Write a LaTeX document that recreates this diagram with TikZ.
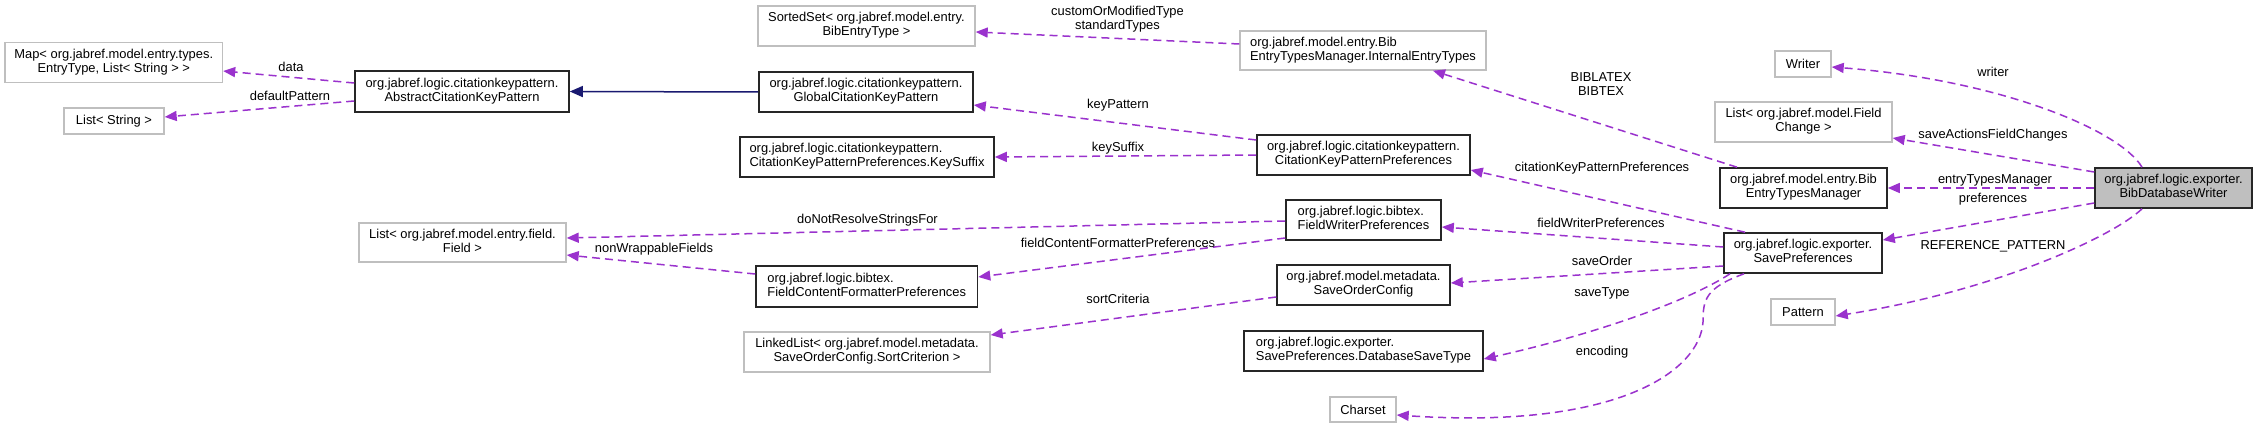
\documentclass[tikz,border=0pt]{standalone}
\usepackage{fontspec}
\setmainfont{Liberation Sans}
\usetikzlibrary{arrows.meta}
\definecolor{edgecol}{HTML}{9A32CD}
\definecolor{inhcol}{HTML}{191970}
\definecolor{graybd}{HTML}{BFBFBF}
\definecolor{selfill}{HTML}{BFBFBF}
\newcommand{\twoln}[2]{\begin{tabular}{@{}l@{}}#1\\\multicolumn{1}{@{}c@{}}{#2}\end{tabular}}
\begin{document}
\begin{tikzpicture}[x=1pt,y=-1pt,
  every node/.style={font=\fontsize{12.9}{14}\selectfont, inner sep=0pt, text=black},
  cls/.style={draw=black!85, line width=1.6pt, fill=white, minimum height=40pt},
  ext/.style={draw=graybd, line width=1.4pt, fill=white, minimum height=40pt},
  sel/.style={cls, fill=selfill},
  lbl/.style={align=center},
  use/.style={draw=edgecol, line width=1.5pt, dash pattern=on 8pt off 5pt, -{Triangle[length=12pt,width=10pt]}},
  inh/.style={draw=inhcol, line width=1.5pt, -{Triangle[length=13pt,width=11pt]}}]
\fill[white] (0,0) rectangle (2257,428);
\useasboundingbox (0,0) rectangle (2257,428);

% nodes
\node[ext, minimum width=217.5pt] (map) at (113.75,62.5) {\twoln{Map< org.jabref.model.entry.types.}{EntryType, List< String > >}};
\node[ext, minimum width=100pt, minimum height=26pt] (lstr) at (114,121) {List< String >};
\node[cls, minimum width=214pt, minimum height=41pt] (abs) at (462,91.5) {\twoln{org.jabref.logic.citationkeypattern.}{AbstractCitationKeyPattern}};
\node[ext, minimum width=207pt, minimum height=39pt] (lfield) at (462.5,242.5) {\twoln{List< org.jabref.model.entry.field.}{Field >}};
\node[ext, minimum width=217pt] (sorted) at (866.5,26) {\twoln{SortedSet< org.jabref.model.entry.}{BibEntryType >}};
\node[cls, minimum width=214pt] (global) at (866,92) {\twoln{org.jabref.logic.citationkeypattern.}{GlobalCitationKeyPattern}};
\node[cls, minimum width=254pt] (keysuffix) at (867,157) {\twoln{org.jabref.logic.citationkeypattern.}{CitationKeyPatternPreferences.KeySuffix}};
\node[cls, minimum width=221.5pt, minimum height=41pt] (fcfp) at (866.75,286.5) {\twoln{org.jabref.logic.bibtex.}{FieldContentFormatterPreferences}};
\node[ext, minimum width=246pt] (linked) at (867,352) {\twoln{LinkedList< org.jabref.model.metadata.}{SaveOrderConfig.SortCriterion >}};
\node[ext, minimum width=246pt, minimum height=39pt] (internal) at (1363,50.5) {\twoln{org.jabref.model.entry.Bib}{EntryTypesManager.InternalEntryTypes}};
\node[cls, minimum width=213pt] (ckpp) at (1363.5,155) {\twoln{org.jabref.logic.citationkeypattern.}{CitationKeyPatternPreferences}};
\node[cls, minimum width=155pt] (fwp) at (1363.5,220) {\twoln{org.jabref.logic.bibtex.}{FieldWriterPreferences}};
\node[cls, minimum width=173pt] (soc) at (1363.5,285) {\twoln{org.jabref.model.metadata.}{SaveOrderConfig}};
\node[cls, minimum width=239pt] (dst) at (1363.5,351) {\twoln{org.jabref.logic.exporter.}{SavePreferences.DatabaseSaveType}};
\node[ext, minimum width=66pt, minimum height=25pt] (charset) at (1363,409.5) {Charset};
\node[ext, minimum width=56pt, minimum height=26pt] (writer) at (1803,64) {Writer};
\node[ext, minimum width=177pt] (lfc) at (1803.5,122) {\twoln{List< org.jabref.model.Field}{Change >}};
\node[cls, minimum width=167pt] (betm) at (1803.5,188) {\twoln{org.jabref.model.entry.Bib}{EntryTypesManager}};
\node[cls, minimum width=158pt] (savep) at (1803,253) {\twoln{org.jabref.logic.exporter.}{SavePreferences}};
\node[ext, minimum width=64pt, minimum height=26pt] (pattern) at (1803,312) {Pattern};
\node[sel, minimum width=157pt] (bdw) at (2173.5,188) {\twoln{org.jabref.logic.exporter.}{BibDatabaseWriter}};

% edges
\draw[use] ([yshift=8.5pt]abs.west) -- ([yshift=-8.5pt]map.east);
\draw[use] ([yshift=-9.5pt]abs.west) -- ([yshift=4pt]lstr.east);
\draw[inh] (global.west) -- (abs.east);
\draw[use] ([yshift=6.5pt]internal.west) -- ([yshift=-6pt]sorted.east);
\draw[use] ([yshift=15pt]ckpp.west) -- ([yshift=-13pt]global.east);
\draw[use] (ckpp.west) -- (keysuffix.east);
\draw[use] ([yshift=-1pt]fwp.west) -- ([yshift=4.5pt]lfield.east);
\draw[use] ([yshift=12.5pt]fcfp.west) -- ([yshift=-12.5pt]lfield.east);
\draw[use] ([yshift=-18pt]fwp.west) -- ([yshift=9.5pt]fcfp.east);
\draw[use] ([yshift=-12pt]soc.west) -- ([yshift=17pt]linked.east);
\draw[use] ([xshift=-66.5pt]betm.north) -- ([xshift=70pt]internal.south);
\draw[use] ([xshift=-58pt]savep.north) -- ([yshift=-15pt]ckpp.east);
\draw[use] ([yshift=6pt]savep.west) -- ([yshift=-7pt]fwp.east);
\draw[use] ([yshift=-13pt]savep.west) -- ([yshift=2pt]soc.east);
\draw[use] ([xshift=-73pt]savep.south) .. controls (1690,300) and (1600,333) .. ([yshift=-8pt]dst.east);
\draw[use] ([xshift=-59pt]savep.south) .. controls (1705,288) and (1703,300) .. (1703,322) .. controls (1700,370) and (1620,430) .. ([yshift=-5.5pt]charset.east);
\draw[use] ([xshift=-31.5pt]bdw.north) .. controls (2120,130) and (2000,80) .. ([yshift=-3pt]writer.east);
\draw[use] ([yshift=16pt]bdw.west) -- ([yshift=-16pt]lfc.east);
\draw[use] (bdw.west) -- (betm.east);
\draw[use] ([yshift=-15pt]bdw.west) -- ([yshift=13pt]savep.east);
\draw[use] ([xshift=-31.5pt]bdw.south) .. controls (2115,235) and (2000,290) .. ([yshift=-4pt]pattern.east);

% labels
\node[lbl] (ldata) at (291,67) {data};
\node[lbl] (ldef) at (290,96) {defaultPattern};
\node[lbl] (lcust) at (1117.5,19.5) {customOrModifiedType\\standardTypes};
\node[lbl] (lkp) at (1118,105) {keyPattern};
\node[lbl] (lks) at (1118,148) {keySuffix};
\node[lbl] (ldnr) at (867.5,220) {doNotResolveStringsFor};
\node[lbl] (lnwf) at (654,249) {nonWrappableFields};
\node[lbl] (lfcf) at (1118,243) {fieldContentFormatterPreferences};
\node[lbl] (lsc) at (1118,299) {sortCriteria};
\node[lbl] (lbib) at (1601,84) {BIBLATEX\\BIBTEX};
\node[lbl] (lckp) at (1602,168) {citationKeyPatternPreferences};
\node[lbl] (lfwp) at (1601,223) {fieldWriterPreferences};
\node[lbl] (lso) at (1602,261) {saveOrder};
\node[lbl] (lst) at (1602,293) {saveType};
\node[lbl] (lenc) at (1602,352) {encoding};
\node[lbl] (lwr) at (1993,72) {writer};
\node[lbl] (lsafc) at (1993,135) {saveActionsFieldChanges};
\node[lbl] (letm) at (1995,180) {entryTypesManager};
\node[lbl] (lpref) at (1993,199) {preferences};
\node[lbl] (lref) at (1993,246) {REFERENCE\_PATTERN};
\end{tikzpicture}
\end{document}
